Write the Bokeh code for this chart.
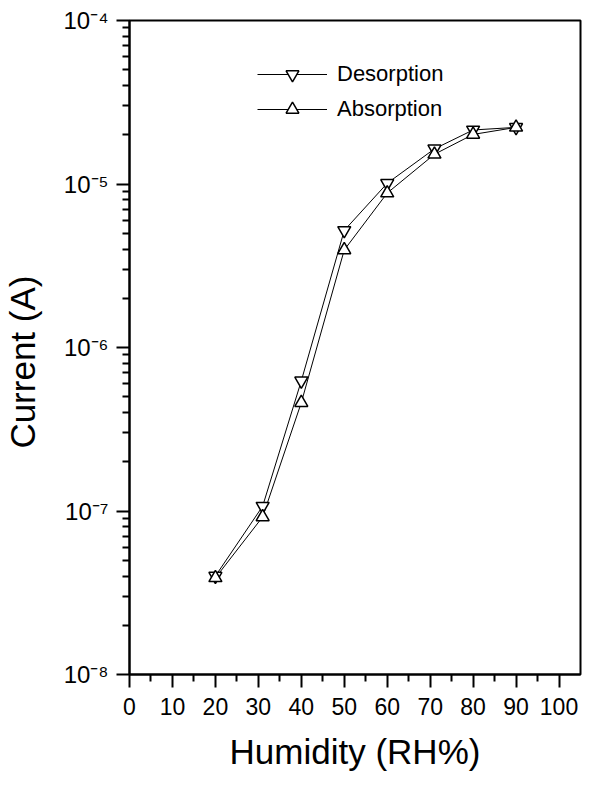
from bokeh.plotting import figure
from bokeh.models import FixedTicker, CustomJSTickFormatter, Legend, LegendItem
from bokeh.embed import file_html
from bokeh.resources import INLINE

# ---- data ----
humidity = [20, 31, 40, 50, 60, 71, 80, 90]
desorption = [4.0e-8, 1.07e-7, 6.25e-7, 5.2e-6, 1.01e-5, 1.64e-5, 2.14e-5, 2.22e-5]
absorption = [3.9e-8, 9.2e-8, 4.6e-7, 3.95e-6, 8.8e-6, 1.52e-5, 2.01e-5, 2.22e-5]

x_ticks = [0, 10, 20, 30, 40, 50, 60, 70, 80, 90, 100]
y_ticks = [1e-8, 1e-7, 1e-6, 1e-5, 1e-4]

FONT = "Liberation Sans"

p = figure(width=583, height=777, output_backend="svg", toolbar_location=None,
           y_axis_type="log", x_range=(0, 105), y_range=(1e-8, 1e-4),
           min_border_left=128, min_border_right=3, min_border_top=20,
           min_border_bottom=103)

p.background_fill_color = "white"
p.border_fill_color = "white"
p.outline_line_color = "black"
p.outline_line_width = 2
p.xgrid.visible = False
p.ygrid.visible = False

# axes
minor_x = [t + 5 for t in x_ticks[:-1]]
p.xaxis.ticker = FixedTicker(ticks=x_ticks, minor_ticks=minor_x)
minor_y = [k * t for t in y_ticks[:-1] for k in range(2, 10)]
p.yaxis.ticker = FixedTicker(ticks=y_ticks, minor_ticks=minor_y)
p.yaxis.formatter = CustomJSTickFormatter(code="""
const sup = {'-':'\u207b','0':'\u2070','1':'\u00b9','2':'\u00b2','3':'\u00b3','4':'\u2074',
             '5':'\u2075','6':'\u2076','7':'\u2077','8':'\u2078','9':'\u2079'};
const e = Math.round(Math.log10(tick));
return '10' + String(e).split('').map(c => sup[c]).join('');
""")

for ax in (p.xaxis[0], p.yaxis[0]):
    ax.axis_line_width = 2
    ax.axis_line_color = "black"
    ax.major_tick_line_width = 2
    ax.minor_tick_line_width = 2
    ax.major_tick_out = 13
    ax.major_tick_in = 0
    ax.minor_tick_out = 7
    ax.minor_tick_in = 0
    ax.major_label_text_font = FONT
    ax.major_label_text_color = "black"
    ax.axis_label_text_font = FONT
    ax.axis_label_text_font_style = "normal"
    ax.axis_label_text_font_size = "35px"
    ax.axis_label_text_color = "black"

p.xaxis.major_label_text_font_size = "23px"
p.yaxis.major_label_text_font_size = "24px"
p.xaxis.major_label_standoff = 10
p.yaxis.major_label_standoff = 8
p.xaxis.axis_label = "Humidity (RH%)"
p.yaxis.axis_label = "Current (A)\u00a0\u00a0\u00a0"
p.xaxis.axis_label_standoff = 14
p.yaxis.axis_label_standoff = 18

# data
ld = p.line(humidity, desorption, line_color="black", line_width=1)
la = p.line(humidity, absorption, line_color="black", line_width=1)
sd = p.scatter(humidity, desorption, marker="inverted_triangle", size=13,
               fill_color="white", line_color="black", line_width=1.5)
sa = p.scatter(humidity, absorption, marker="triangle", size=13,
               fill_color="white", line_color="black", line_width=1.5)

legend = Legend(items=[LegendItem(label="Desorption", renderers=[ld, sd]),
                       LegendItem(label="Absorption", renderers=[la, sa])],
                location=(128, 549))
legend.border_line_color = None
legend.background_fill_alpha = 0
legend.label_text_font = FONT
legend.label_text_font_size = "22px"
legend.label_text_color = "black"
legend.glyph_width = 70
legend.glyph_height = 32
legend.label_standoff = 10
legend.spacing = 3
legend.padding = 5
legend.margin = 0
p.add_layout(legend, "center")

open("out.html", "w").write(file_html(p, INLINE))
